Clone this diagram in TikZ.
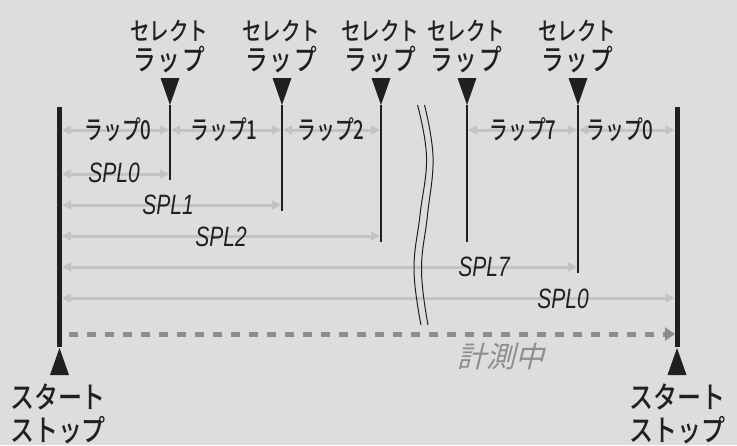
\documentclass[tikz,border=0pt]{standalone}
\usepackage{fontspec}
\usetikzlibrary{arrows.meta,calc}
\newfontfamily\jphdr[FakeStretch=0.78]{Noto Sans CJK JP Medium}
\newfontfamily\jprow[FakeStretch=0.72]{Noto Sans CJK JP Medium}
\newfontfamily\jpbot[FakeStretch=0.8]{Noto Sans CJK JP Medium}
\newfontfamily\jpital[FakeSlant=0.25]{Noto Sans CJK JP}
\newfontfamily\splfont[FakeStretch=0.75]{Liberation Sans}
\definecolor{bg}{HTML}{DCDDDF}
\definecolor{ink}{HTML}{231F20}
\definecolor{lgray}{HTML}{C2C3C5}
\definecolor{dgray}{HTML}{8C8D8F}
\tikzset{
  bar/.style={draw=ink, line width=5pt},
  selline/.style={draw=ink, line width=2pt},
  marker/.style={fill=ink},
  garrow/.style={draw=lgray, line width=3pt, {Triangle[length=9pt,width=9pt]}-{Triangle[length=9pt,width=9pt]}},
  hdr/.style={text=ink, align=center, inner sep=0pt, font=\jphdr\fontsize{25}{30}\selectfont},
  botlbl/.style={text=ink, align=center, inner sep=0pt, font=\jpbot\fontsize{30}{33}\selectfont},
  lap/.style={text=ink, inner sep=0pt, font=\jprow\fontsize{26}{28}\selectfont},
  spl/.style={text=ink, inner sep=0pt, font=\splfont\itshape\fontsize{28}{30}\selectfont},
  meas/.style={text=dgray, inner sep=0pt, font=\jpital\fontsize{29}{30}\selectfont},
  breakline/.style={draw=ink, line width=1pt},
}
\newcommand{\hdrlap}{{\fontsize{29}{30}\selectfont ラ\hspace{2pt}ッ\hspace{2pt}プ}}
\begin{document}
\begin{tikzpicture}[x=1pt,y=-1pt]
\useasboundingbox[fill=bg] (0,0) rectangle (737,445);
% bars
\coordinate (b0t) at (59.5,107); \coordinate (b0b) at (59.5,347);
\coordinate (b1t) at (677,107); \coordinate (b1b) at (677,347);
% select lines
\coordinate (s1t) at (170,105); \coordinate (s1b) at (170,180);
\coordinate (s2t) at (282,105); \coordinate (s2b) at (282,211);
\coordinate (s3t) at (381,105); \coordinate (s3b) at (381,242);
\coordinate (s4t) at (467,105); \coordinate (s4b) at (467,242);
\coordinate (s5t) at (578,105); \coordinate (s5b) at (578,273);
% rows
\coordinate (rlap) at (0,130);
\coordinate (rs0) at (0,174);
\coordinate (rs1) at (0,205);
\coordinate (rs2) at (0,236);
\coordinate (rs7) at (0,267);
\coordinate (rsx) at (0,298);
\coordinate (rdash) at (0,334);
% lap arrows
\draw[garrow, shorten <=2.5pt, shorten >=1pt] (b0t |- rlap) -- (s1t |- rlap);
\draw[garrow, shorten <=1pt, shorten >=1pt] (s1t |- rlap) -- (s2t |- rlap);
\draw[garrow, shorten <=1pt, shorten >=1pt] (s2t |- rlap) -- (s3t |- rlap);
\draw[garrow, shorten <=1pt, shorten >=1pt] (s4t |- rlap) -- (s5t |- rlap);
\draw[garrow, shorten <=1pt, shorten >=2.5pt] (s5t |- rlap) -- (b1t |- rlap);
% split arrows
\draw[garrow, shorten <=2.5pt, shorten >=1pt] (b0t |- rs0) -- (s1t |- rs0);
\draw[garrow, shorten <=2.5pt, shorten >=1pt] (b0t |- rs1) -- (s2t |- rs1);
\draw[garrow, shorten <=2.5pt, shorten >=1pt] (b0t |- rs2) -- (s3t |- rs2);
\draw[garrow, shorten <=2.5pt, shorten >=1pt] (b0t |- rs7) -- (s5t |- rs7);
\draw[garrow, shorten <=2.5pt, shorten >=2.5pt] (b0t |- rsx) -- (b1t |- rsx);
% measuring dashed arrow
\draw[draw=dgray, line width=5pt, dash pattern=on 9pt off 9pt, -{Triangle[length=10pt,width=13pt]}, shorten <=9.5pt, shorten >=2pt] (b0t |- rdash) -- (b1t |- rdash);
% break lines
\draw[breakline] plot[smooth, tension=0.7] coordinates {(417.5,105) (426.5,157) (420,215) (414,270) (421,325)};
\draw[breakline] plot[smooth, tension=0.7] coordinates {(424.5,105) (433,157) (427.5,215) (421.5,270) (428,325)};
% black lines
\draw[bar] (b0t) -- (b0b);
\draw[bar] (b1t) -- (b1b);
\draw[selline] (s1t) -- (s1b);
\draw[selline] (s2t) -- (s2b);
\draw[selline] (s3t) -- (s3b);
\draw[selline] (s4t) -- (s4b);
\draw[selline] (s5t) -- (s5b);
% markers
\foreach \s in {s1t,s2t,s3t,s4t,s5t}{
  \fill[marker] ($(\s)+(-9.5,-27)$) -- ($(\s)+(9.5,-27)$) -- (\s) -- cycle;
}
\fill[marker] ($(b0b)+(0,1)$) -- ($(b0b)+(-9.5,28)$) -- ($(b0b)+(9.5,28)$) -- cycle;
\fill[marker] ($(b1b)+(0,1)$) -- ($(b1b)+(-9.5,28)$) -- ($(b1b)+(9.5,28)$) -- cycle;
% header labels
\node[hdr] (h1) at (169,46) {セレクト\\\hdrlap};
\node[hdr] (h2) at (281,46) {セレクト\\\hdrlap};
\node[hdr] (h3) at (380,46) {セレクト\\\hdrlap};
\node[hdr] (h4) at (466,46) {セレクト\\\hdrlap};
\node[hdr] (h5) at (577,46) {セレクト\\\hdrlap};
% lap labels
\node[lap] (l0) at (118,130) {ラップ0};
\node[lap] (l1) at (224,130) {ラップ1};
\node[lap] (l2) at (331,130) {ラップ2};
\node[lap] (l7) at (523,130) {ラップ7};
\node[lap] (l0b) at (620,130) {ラップ0};
% split labels
\node[spl] (p0) at (114,173) {SPL0};
\node[spl] (p1) at (168,205) {SPL1};
\node[spl] (p2) at (221,237) {SPL2};
\node[spl] (p7) at (484,267) {SPL7};
\node[spl] (p0b) at (563,299) {SPL0};
% measuring
\node[meas] (m) at (501,357) {計測中};
% bottom labels
\node[botlbl] (st0) at (58,414) {スタート\\ストップ};
\node[botlbl] (st1) at (677,414) {スタート\\ストップ};
\end{tikzpicture}
\end{document}
